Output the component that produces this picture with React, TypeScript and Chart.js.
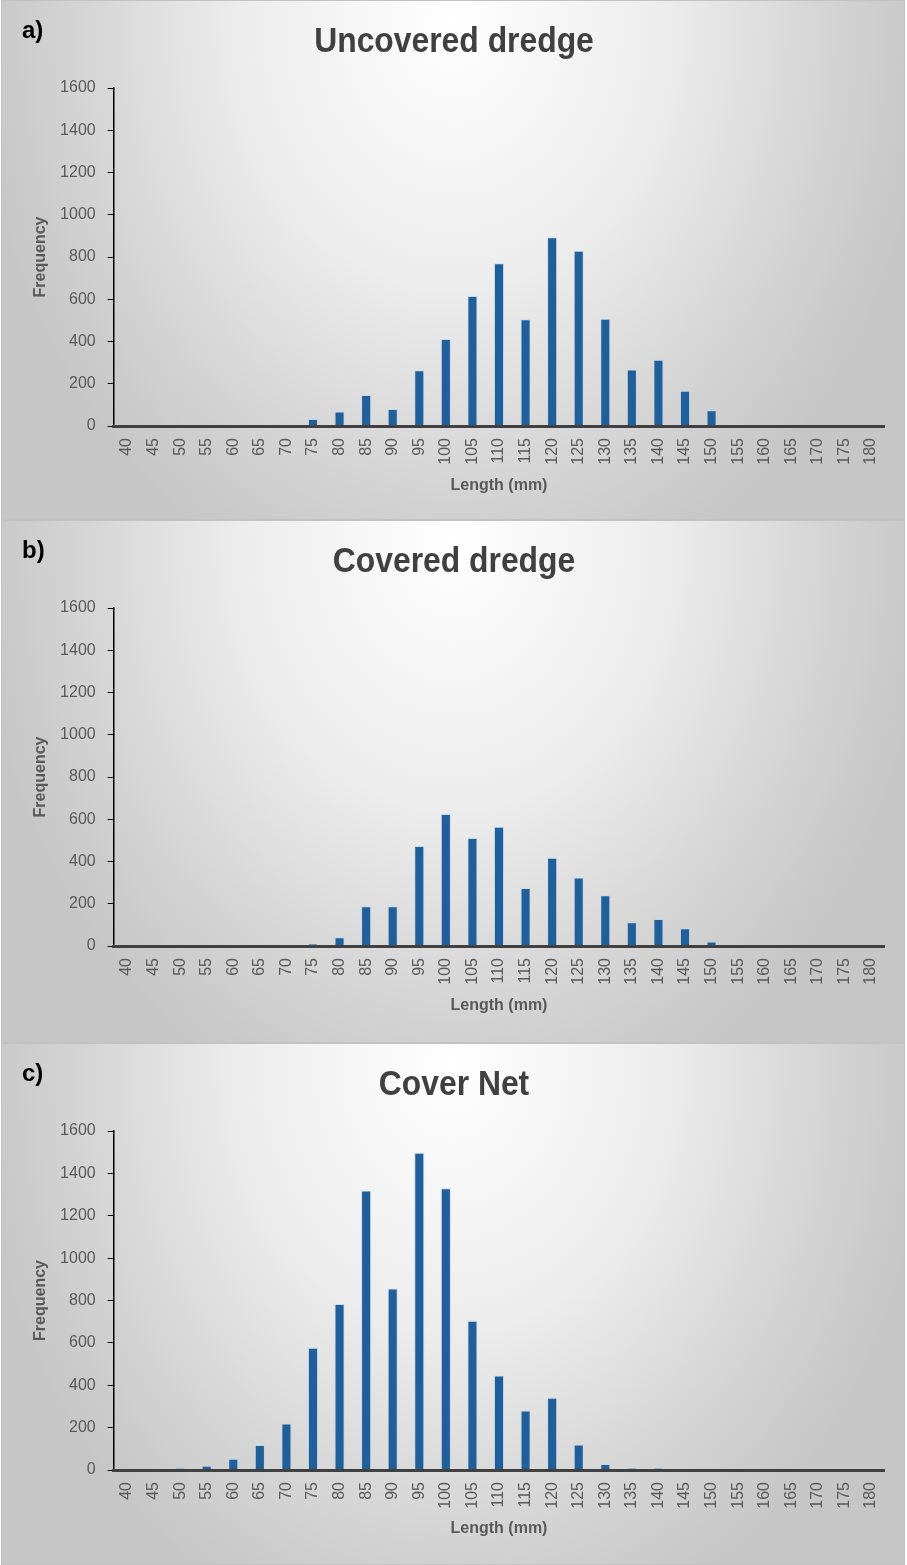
import React, { useEffect, useRef } from "react";
import { Chart, registerables } from "chart.js";

Chart.register(...registerables);

const lengthLabels = [
  "40", "45", "50", "55", "60", "65", "70", "75", "80", "85", "90", "95", "100", "105", "110",
  "115", "120", "125", "130", "135", "140", "145", "150", "155", "160", "165", "170", "175", "180",
];

const uncoveredDredge = [
  0, 0, 0, 0, 0, 0, 0, 33, 69, 147, 80, 264, 412, 615, 771,
  505, 893, 830, 508, 268, 314, 167, 74, 8, 7, 0, 0, 0, 0,
];

const coveredDredge = [
  0, 0, 0, 0, 0, 0, 0, 11, 41, 188, 188, 473, 625, 511, 565,
  275, 418, 324, 240, 112, 128, 84, 21, 0, 0, 0, 0, 0, 0,
];

const coverNet = [
  0, 0, 9, 20, 53, 118, 219, 577, 783, 1319, 857, 1497, 1330, 705, 446,
  281, 341, 120, 28, 9, 9, 0, 0, 0, 0, 0, 0, 0, 0,
];

const frequencyTicks = [0, 200, 400, 600, 800, 1000, 1200, 1400, 1600];

const panelTags = ["a)", "b)", "c)"];
const panelTitles = ["Uncovered dredge", "Covered dredge", "Cover Net"];

const TICK_FONT = "'Liberation Sans', Arial, sans-serif";

const PANEL_W = 904;

function Panel(props: { tag: string; title: string; values: number[]; top: number; height: number; bottomRel: number }) {
  const { tag, title, values, top, height, bottomRel } = props;
  const ref = useRef<HTMLCanvasElement | null>(null);

  useEffect(() => {
    if (!ref.current) return;
    const chart = new Chart(ref.current, {
      type: "bar",
      data: {
        labels: lengthLabels,
        datasets: [
          {
            data: values,
            backgroundColor: "#215f9a",
            borderColor: "rgba(190,212,236,0.75)",
            borderWidth: 1,
            borderSkipped: "bottom",
            barPercentage: 0.38,
            categoryPercentage: 1,
          },
        ],
      },
      options: {
        responsive: false,
        animation: false,
        layout: { padding: { left: 0, right: PANEL_W - 883.3, top: 88, bottom: 0 } },
        plugins: {
          legend: { display: false },
          tooltip: { enabled: false },
          title: { display: false },
        },
        scales: {
          x: {
            grid: { display: false, drawTicks: false },
            border: { display: true, color: "#404040", width: 3, z: 1 },
            ticks: {
              color: "#595959",
              font: { family: TICK_FONT, size: 16 },
              maxRotation: 90,
              minRotation: 90,
              autoSkip: false,
              padding: 12,
            },
            title: {
              display: true,
              text: "Length (mm)",
              color: "#595959",
              font: { family: TICK_FONT, size: 16, weight: "bold" },
              padding: { top: 0, bottom: height - 486 - 9.6 },
            },
            afterFit: (s: any) => {
              s.height = height - bottomRel;
            },
          },
          y: {
            min: 0,
            max: 1600,
            afterBuildTicks: (s: any) => {
              s.ticks = frequencyTicks.map((v) => ({ value: v }));
            },
            grid: { drawOnChartArea: false, drawTicks: true, tickLength: 6, color: "#000000", lineWidth: 1 },
            border: { display: true, color: "#000000", width: 1.5 },
            ticks: {
              color: "#595959",
              font: { family: TICK_FONT, size: 16 },
              padding: 12,
              callback: (v: any) => String(v),
            },
            title: {
              display: true,
              text: "Frequency",
              color: "#595959",
              font: { family: TICK_FONT, size: 16, weight: "bold" },
              padding: { top: 30.4, bottom: 0 },
            },
            afterFit: (s: any) => {
              s.width = 112.7;
            },
          },
        },
      } as any,
    });
    return () => chart.destroy();
  }, [title, values, height, bottomRel]);

  return (
    <div
      style={{
        position: "absolute",
        left: 1,
        top,
        width: PANEL_W,
        height,
        background:
          "radial-gradient(ellipse 480px 600px at 50% 4%, #ffffff 0%, #ececec 45%, #d6d6d6 75%, #c6c6c6 100%)",
        boxShadow: "inset 0 0 0 1px #c2c2c2",
        overflow: "hidden",
      }}
    >
      <canvas ref={ref} width={PANEL_W} height={height} style={{ position: "absolute", left: 0, top: 0, width: PANEL_W, height }} />
      <div
        style={{
          position: "absolute",
          left: 21,
          top: 16,
          fontFamily: TICK_FONT,
          fontWeight: "bold",
          fontSize: 24,
          lineHeight: "28px",
          color: "#000000",
        }}
      >
        {tag}
      </div>
      <div
        style={{
          position: "absolute",
          left: 453 - 300,
          top: 22,
          width: 600,
          textAlign: "center",
          fontFamily: TICK_FONT,
          fontWeight: "bold",
          fontSize: 35,
          lineHeight: "35px",
          color: "#404040",
          transform: "scaleX(0.91)",
          transformOrigin: "50% 50%",
          whiteSpace: "nowrap",
        }}
      >
        {title}
      </div>
    </div>
  );
}

export default function App() {
  const series = [uncoveredDredge, coveredDredge, coverNet];
  const tops = [0, 520, 1043];
  const heights = [520, 523, 522];
  const bottoms = [426, 426, 427];
  return (
    <div style={{ position: "relative", width: 907, height: 1565 }}>
      <style>{"body{margin:0;background:#ffffff;}"}</style>
      {series.map((vals, i) => (
        <Panel
          key={i}
          tag={panelTags[i]}
          title={panelTitles[i]}
          values={vals}
          top={tops[i]}
          height={heights[i]}
          bottomRel={bottoms[i]}
        />
      ))}
    </div>
  );
}
